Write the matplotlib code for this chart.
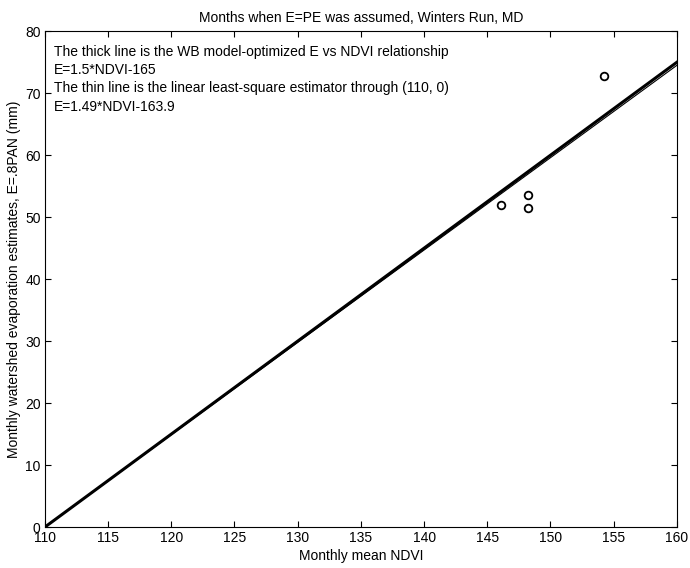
import numpy as np
import matplotlib
matplotlib.use('Agg')
import matplotlib.pyplot as plt

plt.rcParams['font.family'] = ['Liberation Sans', 'DejaVu Sans']

ndvi = [146.1, 148.2, 148.2, 154.2]
evap = [51.9, 53.5, 51.5, 72.8]

# E = a*NDVI + b
thick_a, thick_b = 1.5, -165
thin_a, thin_b = 1.49, -163.9

fig = plt.figure(figsize=(6.9, 5.68), dpi=100)
ax = fig.add_axes([0.065, 0.072, 0.916, 0.873])

x = np.array([110, 160])
ax.plot(x, thick_a * x + thick_b, color='black', lw=2.2)
ax.plot(x, thin_a * x + thin_b, color='black', lw=0.8)
ax.plot(ndvi, evap, 'o', mfc='none', mec='black', ms=5.5, mew=1.3)

ax.set_xlim(110, 160)
ax.set_ylim(0, 80)
ax.set_xticks(np.arange(110, 161, 5))
ax.set_yticks(np.arange(0, 81, 10))
ax.tick_params(direction='in', top=True, right=True, labelsize=10, length=4, pad=3)
for s in ax.spines.values():
    s.set_linewidth(0.8)

ax.set_xlabel('Monthly mean NDVI', fontsize=10, labelpad=3)
ax.set_ylabel('Monthly watershed evaporation estimates, E=.8PAN (mm)', fontsize=10, labelpad=3)
ax.set_title('Months when E=PE was assumed, Winters Run, MD', fontsize=10, pad=7)

lines = ['The thick line is the WB model-optimized E vs NDVI relationship',
         'E=1.5*NDVI-165',
         'The thin line is the linear least-square estimator through (110, 0)',
         'E=1.49*NDVI-163.9']
for i, t in enumerate(lines):
    ax.text(0.014, 0.959 - i * 0.037, t, transform=ax.transAxes, fontsize=10, va='center')

fig.savefig('out.png', dpi=100)
